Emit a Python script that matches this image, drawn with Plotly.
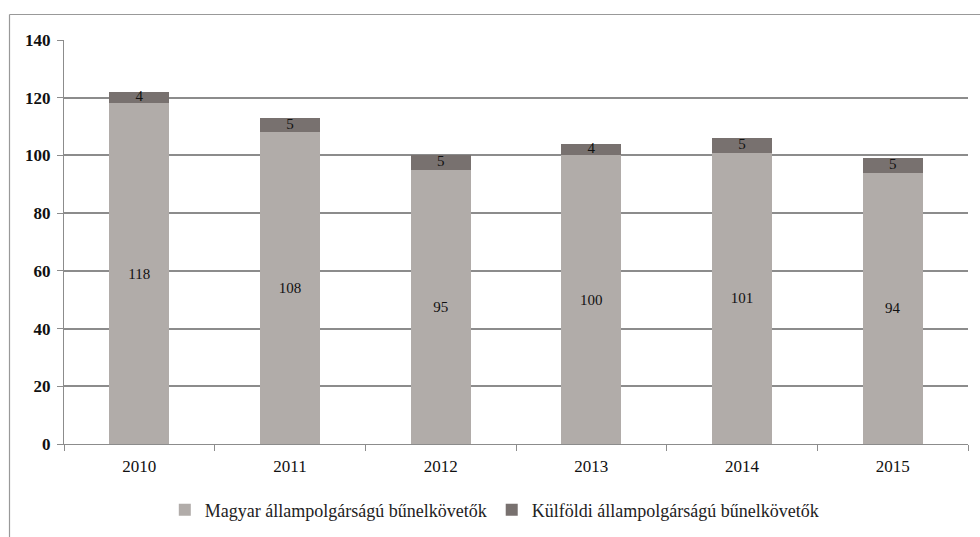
import plotly.graph_objects as go

years = ["2010", "2011", "2012", "2013", "2014", "2015"]
magyar = [118, 108, 95, 100, 101, 94]
kulfoldi = [4, 5, 5, 4, 5, 5]
series_names = ["Magyar állampolgárságú bűnelkövetők", "Külföldi állampolgárságú bűnelkövetők"]
y_ticks = [0, 20, 40, 60, 80, 100, 120, 140]

serif = "Liberation Serif, Times New Roman, serif"
grid_col = "#8c8c8c"

fig = go.Figure()
fig.add_trace(go.Bar(
    x=years, y=magyar, name=series_names[0],
    marker=dict(color="#b1aca9", line=dict(width=0)),
    text=[str(v) for v in magyar], textposition="inside",
    insidetextanchor="middle", textfont=dict(family=serif, size=15, color="#111"),
    hoverinfo="skip",
))
fig.add_trace(go.Bar(
    x=years, y=kulfoldi, name=series_names[1],
    marker=dict(color="#78716f", line=dict(width=0)),
    hoverinfo="skip",
))
# labels for the thin upper segments, centred within each segment
fig.add_trace(go.Scatter(
    x=years, y=[b + t / 2 for b, t in zip(magyar, kulfoldi)],
    mode="text", text=[str(t) for t in kulfoldi],
    textfont=dict(family=serif, size=15, color="#111"),
    showlegend=False, hoverinfo="skip",
))

W, H = 980, 537
ml, mr, mt, mb = 64, 12, 40, 93
pw, ph = W - ml - mr, H - mt - mb
bx = (9.5 - ml) / pw
by = 1 + (mt - 14.5) / ph

fig.update_layout(
    width=W, height=H, barmode="stack", bargap=0.6,
    margin=dict(l=ml, r=mr, t=mt, b=mb),
    paper_bgcolor="white", plot_bgcolor="white",
    font=dict(family=serif, color="#111"),
    showlegend=True,
    legend=dict(orientation="h", x=0.476, xanchor="center",
                yref="container", y=0.05, yanchor="middle",
                font=dict(family=serif, size=18, color="#222"), traceorder="normal",
                itemwidth=30),
    shapes=[
        dict(type="line", xref="paper", yref="paper", x0=bx, x1=bx, y0=by, y1=-0.3,
             line=dict(color="#999", width=1.2)),
        dict(type="line", xref="paper", yref="paper", x0=bx, x1=(W - ml) / pw, y0=by, y1=by,
             line=dict(color="#999", width=1.2)),
    ],
)
fig.update_xaxes(
    type="category", showline=True, linecolor=grid_col, linewidth=1.2,
    ticks="outside", tickson="boundaries", ticklen=6, tickcolor=grid_col,
    tickfont=dict(family=serif, size=17, color="#111"), showgrid=False,
    ticklabelstandoff=6,
)
fig.update_yaxes(
    range=[0, 140], tickvals=y_ticks, ticktext=[f"<b>{v}</b>" for v in y_ticks],
    showgrid=True, gridcolor=grid_col, gridwidth=1.5,
    showline=True, linecolor=grid_col, linewidth=1.2,
    ticks="outside", ticklen=6, tickcolor=grid_col,
    tickfont=dict(family=serif, size=17, color="#111"), zeroline=False,
    ticklabelstandoff=3,
)

fig.write_html("out.html")
